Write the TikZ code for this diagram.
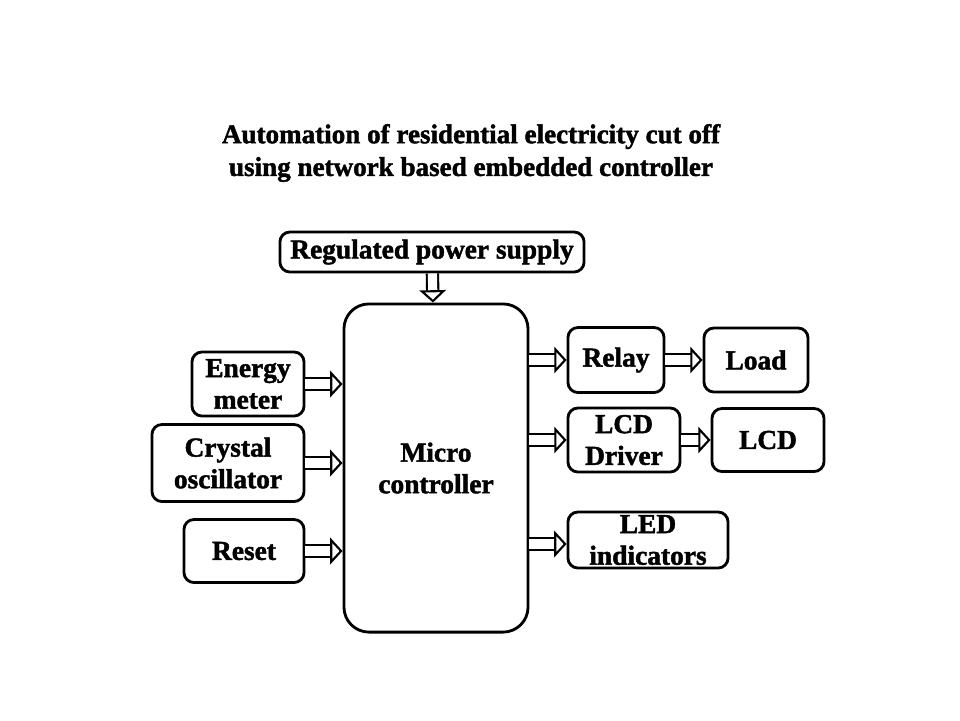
\documentclass[tikz,border=0pt]{standalone}
\usepackage{fontspec}
\setmainfont{Liberation Serif}[BoldFeatures={FakeBold=1.6}]
\usetikzlibrary{arrows.meta}

\begin{document}
\begin{tikzpicture}[x=0.01cm,y=-0.01cm,
  blk/.style={draw,line width=0.8pt,rounded corners=0.1cm,inner sep=0pt,
    align=center,font=\fontsize{7.8}{9}\selectfont\bfseries},
  dbl/.style={double,double distance=2.6pt,line width=0.6pt,
    -{Triangle[open,length=3.5pt,width=7.5pt,line width=0.6pt]}}]
\useasboundingbox (0,0) rectangle (960,720);

\node[font=\fontsize{7.7}{9.3}\selectfont\bfseries,align=center] (title) at (471,153)
  {Automation of residential electricity cut off\\using network based embedded controller};

\node[blk,minimum width=3.04cm,minimum height=0.40cm] (rps) at (432,252) {Regulated power supply};
\node[blk,minimum width=1.84cm,minimum height=3.28cm,rounded corners=0.25cm] (mc) at (436,468) {Micro\\controller};

% inputs
\node[blk,minimum width=1.12cm,minimum height=0.64cm] (em) at (248,384) {Energy\\meter};
\node[blk,minimum width=1.52cm,minimum height=0.77cm] (xo) at (228,463) {Crystal\\oscillator};
\node[blk,minimum width=1.20cm,minimum height=0.63cm] (rst) at (244,551) {Reset};

% outputs
\node[blk,minimum width=0.96cm,minimum height=0.65cm] (rly) at (616,360) {Relay};
\node[blk,minimum width=1.04cm,minimum height=0.64cm] (load) at (756,360) {Load};
\node[blk,minimum width=1.12cm,minimum height=0.64cm] (lcdd) at (624,440) {LCD\\Driver};
\node[blk,minimum width=1.12cm,minimum height=0.63cm] (lcd) at (768,440) {LCD};
\node[blk,minimum width=1.60cm,minimum height=0.56cm] (led) at (648,540) {LED\\indicators};

\draw[dbl] (rps) -- (mc);
\draw[dbl] (em.east) -- (mc.west |- em.east);
\draw[dbl] (xo.east) -- (mc.west |- xo.east);
\draw[dbl] (rst.east) -- (mc.west |- rst.east);
\draw[dbl] (mc.east |- rly.west) -- (rly.west);
\draw[dbl] (rly) -- (load);
\draw[dbl] (mc.east |- lcdd.west) -- (lcdd.west);
\draw[dbl] (lcdd) -- (lcd);
\draw[dbl] (mc.east |- led.west) ++(0,4) coordinate (ledin) -- (led.west |- ledin);

\end{tikzpicture}
\end{document}
